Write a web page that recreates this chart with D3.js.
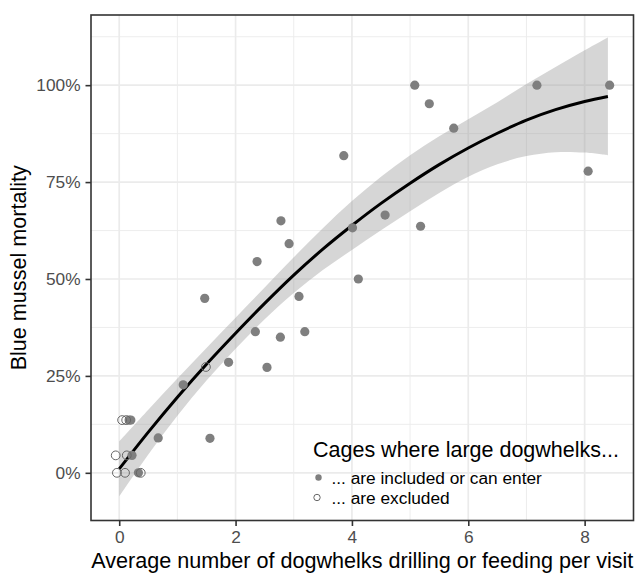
<!DOCTYPE html>
<html><head><meta charset="utf-8">
<script src="https://cdn.jsdelivr.net/npm/d3@7"></script>
<style>body{margin:0;background:#fff}svg{display:block}text{font-family:"Liberation Sans",Arial,sans-serif}</style>
</head><body>
<svg id="c" width="638" height="573"></svg>
<script>
// ---- data ----
const includedX = [0.17,0.20,0.22,0.33,0.67,1.56,1.10,1.88,2.54,2.34,2.77,3.19,1.47,3.09,2.37,2.92,2.78,3.86,4.01,4.11,4.57,5.18,5.08,5.33,5.75,7.18,8.43,8.06];
const includedY = [0.136,0.136,0.045,0,0.09,0.089,0.227,0.285,0.272,0.364,0.35,0.364,0.45,0.455,0.545,0.591,0.65,0.818,0.632,0.50,0.665,0.636,1.0,0.952,0.889,1.0,1.0,0.778];
const excludedX = [0.05,0.12,-0.06,0.13,-0.04,0.10,0.37,1.49];
const excludedY = [0.136,0.136,0.045,0.045,0,0,0,0.273];
const smoothX    = [0,0.5,1,1.5,2,2.5,3,3.5,4,4.5,5,5.5,6,6.5,7,7.5,8,8.4];
const smoothFit  = [0.01,0.105,0.195,0.28,0.36,0.437,0.51,0.577,0.638,0.695,0.747,0.795,0.838,0.876,0.91,0.937,0.958,0.971];
const smoothLow  = [-0.061,0.047,0.147,0.238,0.32,0.396,0.464,0.523,0.575,0.626,0.675,0.722,0.764,0.796,0.817,0.827,0.826,0.819];
const smoothHigh = [0.081,0.163,0.243,0.322,0.40,0.478,0.556,0.631,0.701,0.764,0.819,0.868,0.912,0.956,1.003,1.047,1.09,1.123];
const xTicks = [0,2,4,6,8];
const xMinor = [1,3,5,7];
const yTicks = [0,0.25,0.5,0.75,1];
const yTickLabels = ["0%","25%","50%","75%","100%"];
const yMinor = [0.125,0.375,0.625,0.875,1.125];
const xTitle = "Average number of dogwhelks drilling or feeding per visit";
const yTitle = "Blue mussel mortality";
const legendTitle = "Cages where large dogwhelks...";
const legendLabels = ["... are included or can enter","... are excluded"];

// ---- layout ----
const L=91, R=633.5, T=15, B=520.5;
const svg = d3.select("#c");
const x = d3.scaleLinear().domain([-0.485,8.84]).range([L,R]);
const y = d3.scaleLinear().domain([-0.123,1.181]).range([B,T]);

const g = svg.append("g");
// grid
g.selectAll(".xm").data(xMinor).join("line").attr("x1",d=>x(d)).attr("x2",d=>x(d)).attr("y1",T).attr("y2",B).attr("stroke","#EBEBEB").attr("stroke-width",0.9);
g.selectAll(".ym").data(yMinor).join("line").attr("y1",d=>y(d)).attr("y2",d=>y(d)).attr("x1",L).attr("x2",R).attr("stroke","#EBEBEB").attr("stroke-width",0.9);
g.selectAll(".xM").data(xTicks).join("line").attr("x1",d=>x(d)).attr("x2",d=>x(d)).attr("y1",T).attr("y2",B).attr("stroke","#EBEBEB").attr("stroke-width",1.7);
g.selectAll(".yM").data(yTicks).join("line").attr("y1",d=>y(d)).attr("y2",d=>y(d)).attr("x1",L).attr("x2",R).attr("stroke","#EBEBEB").attr("stroke-width",1.7);

// ribbon + line
const idx = d3.range(smoothX.length);
const area = d3.area().x(i=>x(smoothX[i])).y0(i=>y(smoothLow[i])).y1(i=>y(smoothHigh[i])).curve(d3.curveCatmullRom);
g.append("path").attr("d",area(idx)).attr("fill","#999999").attr("fill-opacity",0.4);
const line = d3.line().x(i=>x(smoothX[i])).y(i=>y(smoothFit[i])).curve(d3.curveCatmullRom);
g.append("path").attr("d",line(idx)).attr("fill","none").attr("stroke","#000").attr("stroke-width",3);

// points
g.selectAll(".pf").data(d3.range(includedX.length)).join("circle")
 .attr("cx",i=>x(includedX[i])).attr("cy",i=>y(includedY[i])).attr("r",4.6).attr("fill","#7F7F7F");
g.selectAll(".po").data(d3.range(excludedX.length)).join("circle")
 .attr("cx",i=>x(excludedX[i])).attr("cy",i=>y(excludedY[i])).attr("r",4.4).attr("fill","none").attr("stroke","#666").attr("stroke-width",1);

// legend
const lg = svg.append("g");
lg.append("text").attr("x",313).attr("y",457).attr("font-size",21.5).attr("fill","#000").text(legendTitle);
lg.append("circle").attr("cx",318.5).attr("cy",477.5).attr("r",3.2).attr("fill","#7F7F7F");
lg.append("circle").attr("cx",317).attr("cy",497.5).attr("r",3.2).attr("fill","none").attr("stroke","#666").attr("stroke-width",1);
lg.selectAll(".lt").data(legendLabels).join("text").attr("x",331.5).attr("y",(d,i)=>483.5+i*20).attr("font-size",17.3).attr("fill","#000").text(d=>d);

// border
svg.append("rect").attr("x",L).attr("y",T).attr("width",R-L).attr("height",B-T).attr("fill","none").attr("stroke","#333").attr("stroke-width",1.6);

// axes
const xa = svg.append("g").attr("transform",`translate(0,${B})`).call(d3.axisBottom(x).tickValues(xTicks).tickSize(5.5).tickPadding(5).tickFormat(d3.format("d")));
const ya = svg.append("g").attr("transform",`translate(${L},0)`).call(d3.axisLeft(y).tickValues(yTicks).tickSize(5.5).tickPadding(5).tickFormat((d,i)=>yTickLabels[i]));
[xa,ya].forEach(a=>{a.select(".domain").remove();a.selectAll(".tick line").attr("stroke","#333").attr("stroke-width",1.6);
 a.selectAll(".tick text").attr("font-size",17.3).attr("fill","#4D4D4D").attr("font-family","Liberation Sans, Arial, sans-serif");});

svg.append("text").attr("x",(L+R)/2).attr("y",567.5).attr("text-anchor","middle").attr("font-size",21.6).attr("fill","#000").text(xTitle);
svg.append("text").attr("transform",`translate(26,${(T+B)/2}) rotate(-90)`).attr("text-anchor","middle").attr("font-size",21.6).attr("fill","#000").text(yTitle);
</script>
</body></html>
